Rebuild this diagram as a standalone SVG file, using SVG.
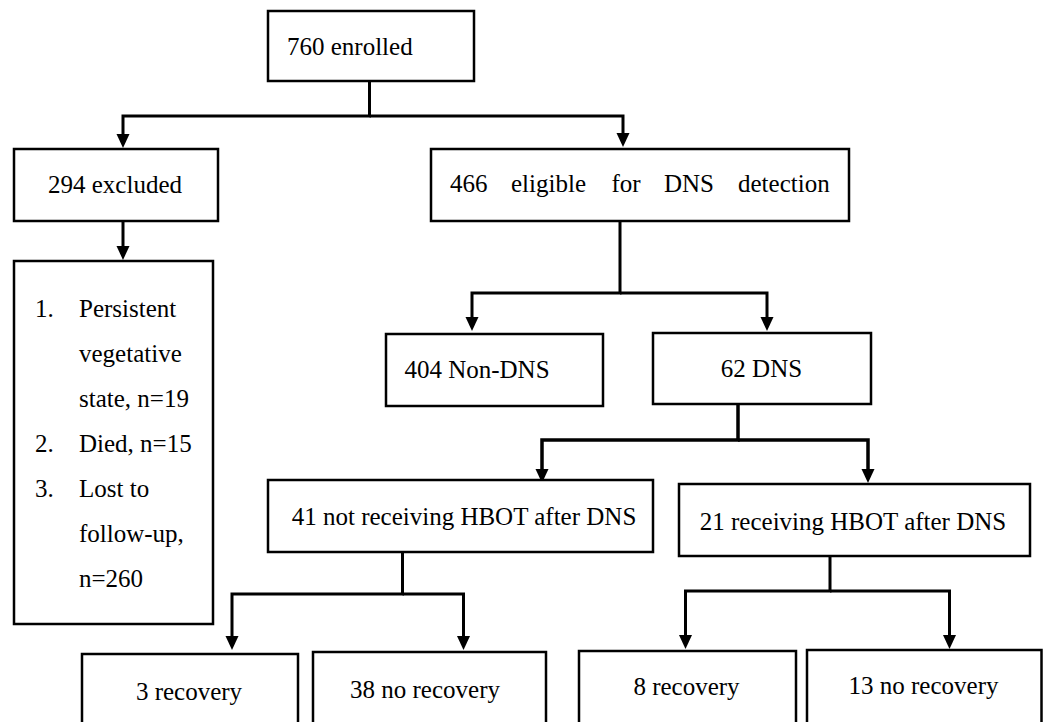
<svg xmlns="http://www.w3.org/2000/svg" width="1043" height="722" viewBox="0 0 1043 722">
<style>
.box{fill:#fff;stroke:#000;stroke-width:2.5}
.t{font-family:'Liberation Serif','Times New Roman',serif;font-size:25px;fill:#000}
.c{text-anchor:middle}
.ln{fill:none;stroke:#000;stroke-width:3}
</style>
<defs>
<marker id="ah" markerUnits="userSpaceOnUse" markerWidth="16" markerHeight="14" viewBox="0 -7 16 14" refX="0" refY="0" orient="auto">
<path d="M0,-6.5 L14,0 L0,6.5 z" fill="#000"/>
</marker>
</defs>
<rect width="1043" height="722" fill="#fff"/>
<g id="connectors">
<path class="ln" d="M369.5,81 V116 H123 V134" marker-end="url(#ah)"/>
<path class="ln" d="M369.5,116 H623 V133" marker-end="url(#ah)"/>
<path class="ln" d="M123,221 V246" marker-end="url(#ah)"/>
<path class="ln" d="M620,221 V293 H472 V317" marker-end="url(#ah)"/>
<path class="ln" d="M620,293 H767 V317" marker-end="url(#ah)"/>
<path class="ln" d="M738,404 V440 H542 V469" marker-end="url(#ah)" style="stroke-width:3.5"/>
<path class="ln" d="M738,440 H868 V469" marker-end="url(#ah)" style="stroke-width:3.5"/>
<path class="ln" d="M402.5,552 V594 H232 V636" marker-end="url(#ah)"/>
<path class="ln" d="M402.5,594 H463.5 V636" marker-end="url(#ah)"/>
<path class="ln" d="M830,556 V591 H685.5 V635" marker-end="url(#ah)"/>
<path class="ln" d="M830,591 H949.5 V635" marker-end="url(#ah)"/>
</g>
<g font-family="Liberation Serif, serif">
<g id="n760">
<rect class="box" x="268" y="11" width="206" height="70"/>
<text class="t" x="287" y="55">760 enrolled</text>
</g>
<g id="n294">
<rect class="box" x="14" y="149" width="204" height="72"/>
<text class="t c" x="115" y="193">294 excluded</text>
</g>
<g id="n466">
<rect class="box" x="431" y="149" width="418" height="72"/>
<text class="t" y="192"><tspan x="450">466</tspan><tspan x="511">eligible</tspan><tspan x="611.5">for</tspan><tspan x="664">DNS</tspan><tspan x="738">detection</tspan></text>
</g>
<g id="nlist">
<rect class="box" x="14" y="261" width="199" height="363"/>
<text class="t"><tspan x="35" y="317">1.</tspan><tspan x="79" y="317">Persistent</tspan><tspan x="79" y="362">vegetative</tspan><tspan x="79" y="407">state, n=19</tspan><tspan x="35" y="452">2.</tspan><tspan x="79" y="452">Died, n=15</tspan><tspan x="35" y="497">3.</tspan><tspan x="79" y="497">Lost to</tspan><tspan x="79" y="542">follow-up,</tspan><tspan x="79" y="587">n=260</tspan></text>
</g>
<g id="n404">
<rect class="box" x="386" y="334" width="217" height="72"/>
<text class="t c" x="477" y="378">404 Non-DNS</text>
</g>
<g id="n62">
<rect class="box" x="653" y="333" width="218" height="71"/>
<text class="t c" x="761.5" y="377">62 DNS</text>
</g>
<g id="n41">
<rect class="box" x="268" y="480" width="385" height="72"/>
<text class="t c" x="464" y="525">41 not receiving HBOT after DNS</text>
</g>
<g id="n21">
<rect class="box" x="679" y="484" width="351" height="72"/>
<text class="t c" x="853" y="530">21 receiving HBOT after DNS</text>
</g>
<g id="n3r">
<rect class="box" x="82" y="654" width="216" height="80"/>
<text class="t c" x="189" y="700">3 recovery</text>
</g>
<g id="n38">
<rect class="box" x="313" y="652" width="233" height="80"/>
<text class="t c" x="425" y="698">38 no recovery</text>
</g>
<g id="n8">
<rect class="box" x="579" y="651" width="217" height="80"/>
<text class="t c" x="686.5" y="695">8 recovery</text>
</g>
<g id="n13">
<rect class="box" x="807" y="650" width="234.5" height="80"/>
<text class="t c" x="923.5" y="694">13 no recovery</text>
</g>
</g>
</svg>
